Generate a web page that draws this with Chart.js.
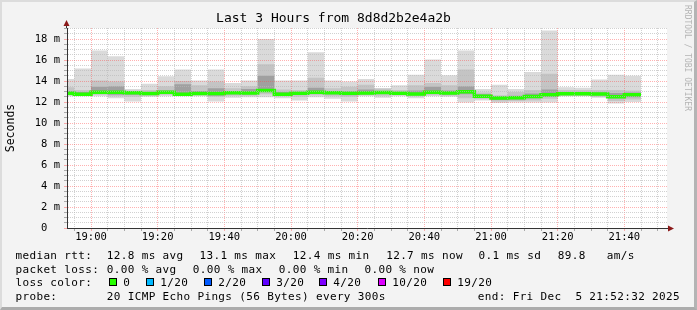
<!DOCTYPE html>
<html>
<head>
<meta charset="utf-8">
<script src="https://cdn.jsdelivr.net/npm/chart.js@4.4.1/dist/chart.umd.min.js"></script>
<style>
  html, body { margin: 0; padding: 0; background: #f3f3f3; }
  #wrap { position: relative; width: 697px; height: 310px; overflow: hidden; }
  #wrap canvas { position: absolute; left: 0; top: 0; }
  #frame { position: absolute; left: 0; top: 0; width: 697px; height: 310px; box-sizing: border-box;
    border-top: 2px solid #dcdcdc; border-left: 2px solid #dcdcdc;
    border-right: 3px solid #b4b4b4; border-bottom: 3px solid #acacac; pointer-events: none; }
</style>
</head>
<body>
<div id="wrap">
  <canvas id="smokeping" width="697" height="310"></canvas>
  <div id="frame"></div>
</div>
<script>
// 5 minute steps, the first one is cut off by the 3 hour window
const step_times = ['18:52:48', '18:55', '19:00', '19:05', '19:10', '19:15', '19:20', '19:25', '19:30',
  '19:35', '19:40', '19:45', '19:50', '19:55', '20:00', '20:05', '20:10', '20:15', '20:20', '20:25',
  '20:30', '20:35', '20:40', '20:45', '20:50', '20:55', '21:00', '21:05', '21:10', '21:15', '21:20',
  '21:25', '21:30', '21:35', '21:40'];
const data_end = '21:45';
const window_start = '18:52:48';
const window_end = '21:52:48';

// smoke, in ms: outer band (min..max), middle band, inner band, and the median
const ping_max = [14.2, 15.2, 16.9, 16.35, 13.25, 13.75, 14.45, 15.1, 14.05, 15.1, 13.8, 14.05, 18.0,
  14.05, 14.05, 16.75, 14.05, 13.95, 14.2, 13.1, 13.6, 14.6, 16.05, 14.55, 16.9, 13.25, 13.65, 13.25,
  14.85, 18.8, 13.4, 13.35, 14.15, 14.6, 14.5];
const ping_upper = [13.4, 13.15, 14.05, 13.95, 13.1, 13.15, 13.5, 14.0, 13.6, 13.95, 13.3, 13.5, 15.6,
  13.2, 13.15, 14.3, 13.3, 13.45, 13.65, 13.3, 13.15, 13.6, 13.8, 13.6, 15.1, 12.9, 12.65, 12.95,
  13.15, 14.7, 13.15, 13.15, 13.15, 13.15, 13.1];
const ping_inner_hi = [13.05, 12.95, 13.45, 13.5, 12.98, 12.95, 13.1, 13.7, 13.05, 13.3, 13.0, 13.25,
  14.5, 12.95, 12.95, 13.35, 13.05, 13.0, 13.2, 13.0, 12.95, 13.1, 13.45, 13.1, 13.5, 12.75, 12.5,
  12.6, 12.8, 13.2, 12.9, 12.9, 12.9, 12.85, 12.9];
const median_rtt = [12.83, 12.75, 12.94, 12.92, 12.89, 12.8, 12.92, 12.73, 12.81, 12.82, 12.89, 12.86,
  13.1, 12.75, 12.84, 12.94, 12.89, 12.83, 12.86, 12.9, 12.83, 12.76, 12.92, 12.86, 12.97, 12.56,
  12.38, 12.4, 12.52, 12.7, 12.78, 12.78, 12.76, 12.51, 12.7];
const ping_inner_lo = [12.7, 12.68, 12.8, 12.7, 12.7, 12.7, 12.8, 12.65, 12.72, 12.6, 12.75, 12.75,
  12.95, 12.65, 12.7, 12.8, 12.75, 12.65, 12.75, 12.8, 12.72, 12.65, 12.8, 12.72, 12.75, 12.45, 12.2,
  12.25, 12.35, 12.5, 12.7, 12.7, 12.65, 12.35, 12.45];
const ping_lower = [12.65, 12.65, 12.7, 12.55, 12.5, 12.6, 12.7, 12.6, 12.65, 12.5, 12.6, 12.6, 12.75,
  12.55, 12.5, 12.65, 12.55, 12.5, 12.65, 12.6, 12.65, 12.55, 12.65, 12.6, 12.35, 12.3, 12.05, 12.1,
  12.15, 12.3, 12.6, 12.6, 12.5, 12.1, 12.25];
const ping_min = [12.55, 12.55, 12.55, 12.35, 12.05, 12.5, 12.55, 12.55, 12.55, 12.05, 12.4, 12.45,
  12.45, 12.35, 12.15, 12.45, 12.3, 12.05, 12.55, 12.4, 12.55, 12.35, 12.55, 12.5, 11.95, 12.15, 11.9,
  11.95, 11.95, 11.95, 12.55, 12.55, 12.4, 11.85, 12.0];

const x_tick_labels = ['19:00', '19:20', '19:40', '20:00', '20:20', '20:40', '21:00', '21:20', '21:40'];
const y_tick_labels = ['0  ', '2 m', '4 m', '6 m', '8 m', '10 m', '12 m', '14 m', '16 m', '18 m'];
const y_top = 19.05;

const rtt_legend = ['median rtt:', '12.8 ms avg', '13.1 ms max', '12.4 ms min', '12.7 ms now',
  '0.1 ms sd', '89.8', 'am/s'];
const loss_legend = ['packet loss:', '0.00 % avg', '0.00 % max', '0.00 % min', '0.00 % now'];
const loss_labels = ['0', '1/20', '2/20', '3/20', '4/20', '10/20', '19/20'];
const loss_colors = ['#26ff00', '#00b8ff', '#0059ff', '#5e00ff', '#7e00ff', '#dd00ff', '#ff0000'];
const probe_legend = ['probe:', '20 ICMP Echo Pings (56 Bytes) every 300s', 'end: Fri Dec  5 21:52:32 2025'];

const MONO = "'DejaVu Sans Mono', monospace";

function to_min(s) {
  const [h, m, sec = 0] = s.split(':').map(Number);
  return h * 60 + m + sec / 60;
}
function hhmm(v) {
  const h = Math.floor(v / 60), m = Math.round(v - h * 60);
  return String(h).padStart(2, '0') + ':' + String(m).padStart(2, '0');
}
// step points, the last value is held until the end of its step
function steps(values) {
  const pts = step_times.map((t, i) => ({ x: to_min(t), y: values[i] }));
  pts.push({ x: to_min(data_end), y: values[values.length - 1] });
  return pts;
}
function band(values, color, fill) {
  return { data: steps(values), stepped: true, borderWidth: 0, borderColor: 'transparent',
    pointRadius: 0, backgroundColor: color, fill: fill };
}

const x_min = to_min(window_start), x_max = to_min(window_end);
const x_grid = [];
for (let t = Math.ceil(x_min / 5) * 5; t < x_max; t += 5) x_grid.push(t);
const y_grid = [];
for (let i = 0; i * 0.5 < y_top; i++) y_grid.push(i * 0.5);

const GRID = 'rgba(185,185,185,0.65)';
const MGRID = 'rgba(255,70,70,0.42)';

const rrd_decor = {
  id: 'rrd_decor',
  beforeDraw(chart) {
    const { ctx, chartArea: a } = chart;
    ctx.save();
    ctx.fillStyle = '#ffffff';
    ctx.fillRect(a.left, a.top, a.right - a.left, a.bottom - a.top);
    ctx.restore();
  },
  afterDraw(chart) {
    const { ctx, chartArea: a } = chart;
    ctx.save();
    // axis extensions with arrow heads
    ctx.strokeStyle = '#333';
    ctx.lineWidth = 1;
    ctx.beginPath();
    ctx.moveTo(a.left - 0.5, a.top);
    ctx.lineTo(a.left - 0.5, a.top - 4);
    ctx.moveTo(a.right, a.bottom + 0.5);
    ctx.lineTo(a.right + 4, a.bottom + 0.5);
    ctx.stroke();
    ctx.fillStyle = '#8b1a1a';
    ctx.beginPath();
    ctx.moveTo(a.left - 0.5, a.top - 8);
    ctx.lineTo(a.left - 3.5, a.top - 2);
    ctx.lineTo(a.left + 2.5, a.top - 2);
    ctx.closePath();
    ctx.fill();
    ctx.beginPath();
    ctx.moveTo(a.right + 7, a.bottom + 0.5);
    ctx.lineTo(a.right + 1, a.bottom - 2.5);
    ctx.lineTo(a.right + 1, a.bottom + 3.5);
    ctx.closePath();
    ctx.fill();

    // legend rows
    ctx.fillStyle = '#000';
    ctx.font = '11px ' + MONO;
    ctx.letterSpacing = '0.35px';
    ctx.textBaseline = 'alphabetic';
    ctx.textAlign = 'left';
    const rtt_x = [15.5, 106.8, 199.5, 292.8, 386.2, 478.5, 557.8, 606.8];
    rtt_legend.forEach((s, i) => ctx.fillText(s, rtt_x[i], 258.5));
    const loss_x = [15.5, 106.8, 192.8, 278.8, 364.5];
    loss_legend.forEach((s, i) => ctx.fillText(s, loss_x[i], 272.5));
    ctx.fillText('loss color:', 15.5, 286.3);
    const box_x = [109, 146, 204, 262, 319, 378, 443];
    loss_labels.forEach((s, i) => {
      ctx.fillStyle = loss_colors[i];
      ctx.fillRect(box_x[i], 278, 8, 8);
      ctx.strokeStyle = '#000';
      ctx.strokeRect(box_x[i] + 0.5, 278.5, 7, 7);
      ctx.fillStyle = '#000';
      ctx.fillText(s, box_x[i] + 14.3, 286.3);
    });
    const probe_x = [15.5, 106.8, 477.8];
    probe_legend.forEach((s, i) => ctx.fillText(s, probe_x[i], 300.2));

    // watermark
    ctx.translate(684.5, 5);
    ctx.rotate(Math.PI / 2);
    ctx.font = '8px ' + MONO;
    ctx.letterSpacing = '0px';
    ctx.fillStyle = '#b4b4b4';
    ctx.fillText('RRDTOOL / TOBI OETIKER', 0, 0);
    ctx.restore();
  }
};

new Chart(document.getElementById('smokeping'), {
  type: 'line',
  data: {
    datasets: [
      { label: 'median rtt', data: steps(median_rtt), stepped: true, borderColor: '#26ff00',
        borderWidth: 3.5, pointRadius: 0, fill: false },
      band(ping_inner_hi, '#a0a0a0', '+1'),
      band(ping_inner_lo, '#a0a0a0', false),
      band(ping_upper, '#c4c4c4', '+1'),
      band(ping_lower, '#c4c4c4', false),
      band(ping_max, '#dadada', '+1'),
      band(ping_min, '#dadada', false)
    ]
  },
  options: {
    responsive: false,
    animation: false,
    events: [],
    layout: { padding: { left: 0, right: 30, top: 0, bottom: 0 } },
    plugins: {
      legend: { display: false },
      tooltip: { enabled: false },
      title: {
        display: true,
        text: 'Last 3 Hours from 8d8d2b2e4a2b',
        color: '#000',
        font: { family: MONO, size: 13, weight: 'normal', lineHeight: '16px' },
        padding: { top: 11, bottom: 1 }
      }
    },
    scales: {
      x: {
        type: 'linear',
        min: x_min,
        max: x_max,
        afterBuildTicks: (s) => { s.ticks = x_grid.map((v) => ({ value: v })); },
        afterFit: (s) => { s.height = 82; },
        ticks: {
          z: 1,
          autoSkip: false,
          maxRotation: 0,
          padding: 0,
          color: '#000',
          font: { family: MONO, size: 10.5 },
          callback: (v) => (x_tick_labels.includes(hhmm(v)) ? hhmm(v) : '')
        },
        grid: {
          z: 1,
          color: (c) => (c.tick && x_tick_labels.includes(hhmm(c.tick.value)) ? MGRID : GRID),
          tickColor: (c) => (c.tick && x_tick_labels.includes(hhmm(c.tick.value)) ? MGRID : '#aaa'),
          tickLength: 3,
          lineWidth: 1
        },
        border: { z: 2, display: true, color: '#333', width: 1, dash: [1, 1] }
      },
      y: {
        min: 0,
        max: y_top,
        afterBuildTicks: (s) => { s.ticks = y_grid.map((v) => ({ value: v })); },
        afterFit: (s) => { s.width = 67; },
        ticks: {
          z: 1,
          autoSkip: false,
          padding: 4,
          color: '#000',
          font: { family: MONO, size: 10.5 },
          callback: (v) => (v % 2 === 0 ? y_tick_labels[v / 2] : '')
        },
        grid: {
          z: 1,
          color: (c) => (c.tick && c.tick.value % 2 === 0 ? MGRID : GRID),
          tickColor: (c) => (c.tick && c.tick.value % 2 === 0 ? MGRID : '#aaa'),
          tickLength: 3,
          lineWidth: 1
        },
        border: { z: 2, display: true, color: '#333', width: 1, dash: [1, 1] },
        title: {
          display: true,
          text: 'Seconds',
          color: '#000',
          font: { family: MONO, size: 11.5 },
          padding: { top: 4, bottom: 0 }
        }
      }
    }
  },
  plugins: [rrd_decor]
});
</script>
</body>
</html>
